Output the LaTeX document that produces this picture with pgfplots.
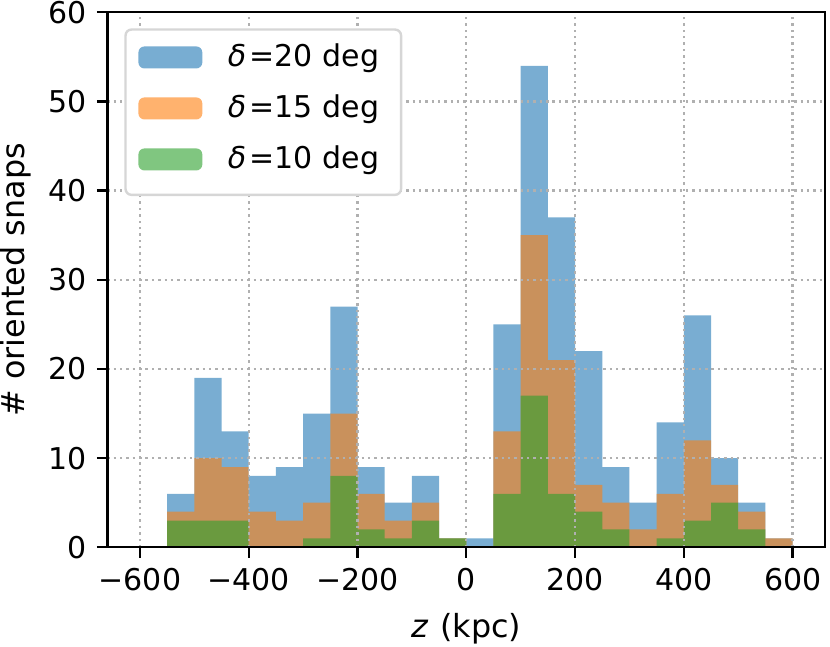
\documentclass[border=0pt]{standalone}
\usepackage{fontspec}
\setmainfont{DejaVu Sans}
\usepackage{pgfplots}
\pgfplotsset{compat=1.18}
\definecolor{c1}{HTML}{1F77B4}
\definecolor{c2}{HTML}{FF7F0E}
\definecolor{c3}{HTML}{2CA02C}
\definecolor{gridc}{HTML}{B0B0B0}
\pgfplotsset{
  histbar/.style={ybar interval, draw=none, fill=#1, fill opacity=0.6,
    legend image code/.code={\fill[fill=#1, fill opacity=0.6] (0pt,-0.67pt) rectangle (21.3pt,6.67pt);}},
}
\begin{document}
\fontsize{10}{12}\selectfont
\begin{tikzpicture}
\useasboundingbox (-35.77pt,-33.17pt) rectangle (240.9pt,182.43pt);
\begin{axis}[
  width=239.33pt, height=178.33pt, scale only axis,
  xmin=-660, xmax=660, ymin=0, ymax=60,
  xtick={-600,-400,-200,0,200,400,600},
  xticklabels={−600,−400,−200,0,200,400,600},
  ytick={0,10,20,30,40,50,60},
  tick pos=left, tick align=outside, major tick length=3.5pt,
  every tick/.style={black, line width=0.8pt},
  axis line style={line width=0.8pt},
  grid=major,
  grid style={gridc, line width=0.8pt, dash pattern=on 0.8pt off 1.32pt},
  axis on top,
  /pgf/number format/assume math mode=true,
  tick label style={font=\fontsize{10}{12}\selectfont},
  label style={font=\fontsize{10.6}{12.7}\selectfont},
  xlabel={{\itshape z}\kern0.8pt{} (kpc)},
  ylabel={\# oriented snaps},
  xlabel style={at={(axis description cs:0.5,-0.153)}, anchor=center},
  ylabel style={at={(axis description cs:-0.128,0.5)}, anchor=center},
  legend cell align=left,
  legend style={at={(axis description cs:0.0237,0.970)}, anchor=north west,
    draw=black!16, line width=0.8pt, fill=white, rounded corners=2pt,
    inner xsep=4.3pt, inner ysep=4.8pt, row sep=5.5pt, column sep=8.5pt,
    nodes={inner sep=0pt, text height=7.5pt, text depth=4pt, anchor=base west},
    font=\fontsize{10}{12}\selectfont},
]
\addplot[histbar=c1] coordinates {
(-600,0) (-550,6) (-500,19) (-450,13) (-400,8) (-350,9) (-300,15) (-250,27)
(-200,9) (-150,5) (-100,8) (-50,1) (0,1) (50,25) (100,54) (150,37) (200,22)
(250,9) (300,5) (350,14) (400,26) (450,10) (500,5) (550,1) (600,1)};
\addlegendentry{{\itshape δ}\kern1.2pt=20 deg\hspace*{3pt}}
\addplot[histbar=c2] coordinates {
(-600,0) (-550,4) (-500,10) (-450,9) (-400,4) (-350,3) (-300,5) (-250,15)
(-200,6) (-150,3) (-100,5) (-50,1) (0,0) (50,13) (100,35) (150,21) (200,7)
(250,5) (300,2) (350,6) (400,12) (450,7) (500,4) (550,1) (600,1)};
\addlegendentry{{\itshape δ}\kern1.2pt=15 deg\hspace*{3pt}}
\addplot[histbar=c3] coordinates {
(-600,0) (-550,3) (-500,3) (-450,3) (-400,0) (-350,0) (-300,1) (-250,8)
(-200,2) (-150,1) (-100,3) (-50,1) (0,0) (50,6) (100,17) (150,6) (200,4)
(250,2) (300,0) (350,1) (400,3) (450,5) (500,2) (550,0) (600,0)};
\addlegendentry{{\itshape δ}\kern1.2pt=10 deg\hspace*{3pt}}
\end{axis}
\end{tikzpicture}
\end{document}
